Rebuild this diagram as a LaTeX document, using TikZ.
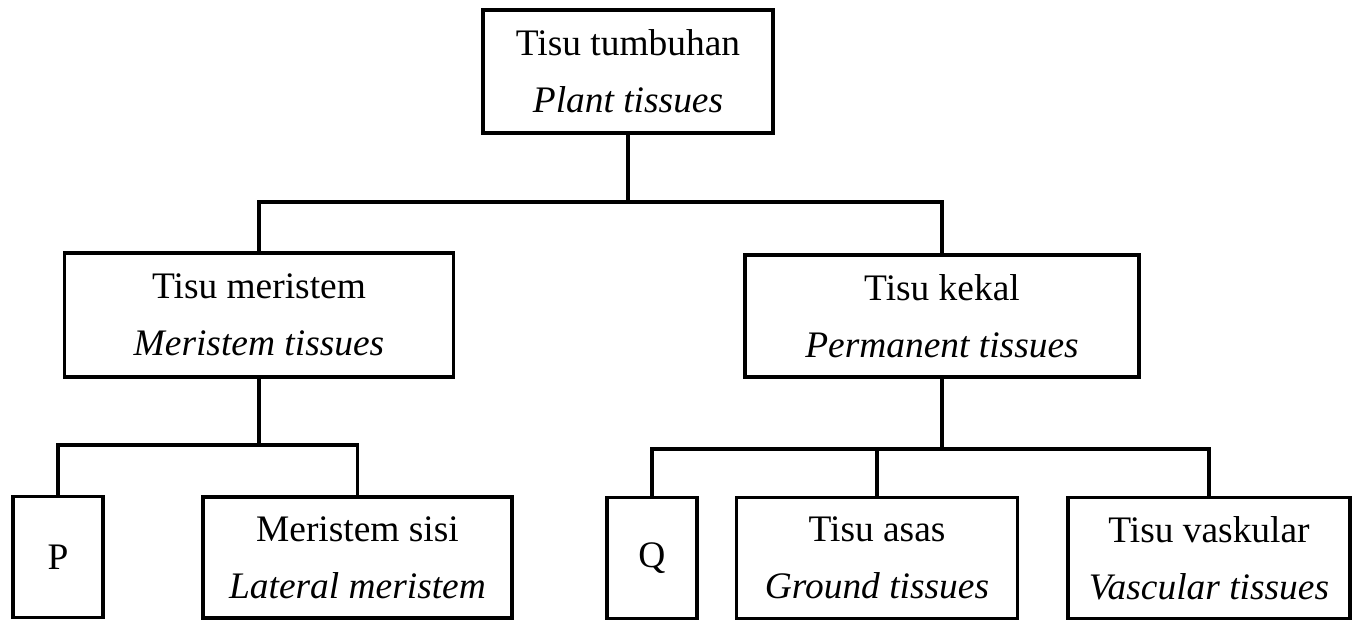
\documentclass[tikz,border=0pt]{standalone}
\usepackage{fontspec}
\setmainfont{Liberation Serif}

\begin{document}
\begin{tikzpicture}[x=0.02cm, y=-0.02cm,
  tbox/.style={draw, line width=1.8pt, align=center, inner sep=0pt,
               font=\fontsize{21.3}{32.4}\selectfont,
               minimum height=2.42cm},
  link/.style={line width=1.8pt},
]
\useasboundingbox (0,0) rectangle (1353,622);

% Aras atas
\node[tbox, minimum width=5.8cm, minimum height=2.46cm] (tumbuhan) at (628,71.5)
  {Tisu tumbuhan\\\textit{Plant tissues}};

% Aras tengah
\node[tbox, minimum width=7.78cm, minimum height=2.48cm] (meristem) at (259,315)
  {Tisu meristem\\\textit{Meristem tissues}};
\node[tbox, minimum width=7.88cm, minimum height=2.44cm] (kekal) at (942,316)
  {Tisu kekal\\\textit{Permanent tissues}};

% Aras bawah
\node[tbox, minimum width=1.8cm] (P) at (58,557) {P};
\node[tbox, minimum width=6.18cm] (sisi) at (357.5,557.5)
  {Meristem sisi\\\textit{Lateral meristem}};
\node[tbox, minimum width=1.8cm] (Q) at (652,558) {Q};
\node[tbox, minimum width=5.62cm] (asas) at (877,558)
  {Tisu asas\\\textit{Ground tissues}};
\node[tbox, minimum width=5.64cm] (vaskular) at (1209,558)
  {Tisu vaskular\\\textit{Vascular tissues}};

% Cabang
\coordinate (j1) at (tumbuhan.south |- 0,202);
\coordinate (j2) at (meristem.south |- 0,445);
\coordinate (j3) at (kekal.south |- 0,449);

\draw[link] (tumbuhan.south) -- (j1);
\draw[link] (meristem.north) |- (j1) -| (kekal.north);

\draw[link] (meristem.south) -- (j2);
\draw[link] (P.north) |- (j2) -| (sisi.north);

\draw[link] (kekal.south) -- (j3);
\draw[link] (Q.north) |- (j3) -| (vaskular.north);
\draw[link] (asas.north) -- (asas.north |- j3);
\end{tikzpicture}
\end{document}
